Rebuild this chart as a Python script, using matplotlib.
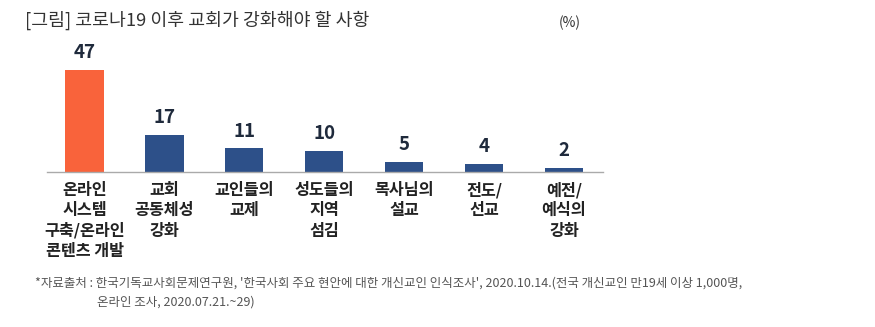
import matplotlib
matplotlib.use('Agg')
import matplotlib.pyplot as plt
import matplotlib.transforms as mtransforms

plt.rcParams['font.family'] = ['Noto Sans CJK KR', 'DejaVu Sans']

# data
categories = ['온라인\n시스템\n구축/온라인\n콘텐츠 개발',
              '교회\n공동체성\n강화',
              '교인들의\n교제',
              '성도들의\n지역\n섬김',
              '목사님의\n설교',
              '전도/\n선교',
              '예전/\n예식의\n강화']
values = [47, 17, 11, 10, 5, 4, 2]
title = '[그림] 코로나19 이후 교회가 강화해야 할 사항'
unit = '(%)'
source_1 = "*자료출처 : 한국기독교사회문제연구원, '한국사회 주요 현안에 대한 개신교인 인식조사', 2020.10.14.(전국 개신교인 만19세 이상 1,000명,"
source_2 = '온라인 조사, 2020.07.21.~29)'

ORANGE = '#F9633B'
NAVY = '#2D5089'

W, H = 875, 327
fig = plt.figure(figsize=(W / 100, H / 100), dpi=100)
ax = fig.add_axes([47 / W, 1 - 172.5 / H, 556 / W, 109.5 / H])

x = list(range(len(values)))
colors = [ORANGE] + [NAVY] * (len(values) - 1)
ax.bar(x, values, width=0.48, color=colors, zorder=2)
ax.set_xlim(-0.47, 6.49)
ax.set_ylim(0, 50)

for xi, v in zip(x, values):
    ax.annotate(str(v), (xi, v), xytext=(0, 12.5), textcoords='offset points',
                ha='center', va='center', fontsize=13.5, fontweight='bold',
                color='#1F2A3C')

# category labels under the axis line, one text per line for even spacing
trans = mtransforms.blended_transform_factory(ax.transData, fig.transFigure)
for xi, lab in zip(x, categories):
    for k, line in enumerate(lab.split('\n')):
        ax.text(xi, 1 - (190 + 20.3 * k) / H, line, transform=trans,
                ha='center', va='center', fontsize=11.7, fontweight='bold',
                color='#222222')

for s in ['top', 'right', 'left']:
    ax.spines[s].set_visible(False)
ax.spines['bottom'].set_color('#AAAAAA')
ax.spines['bottom'].set_linewidth(1.0)
ax.set_xticks([])
ax.set_yticks([])

fig.text(25 / W, 1 - 20 / H, title, ha='left', va='center', fontsize=13.2,
         color='#333333')
fig.text(570 / W, 1 - 23 / H, unit, ha='center', va='center', fontsize=10,
         color='#333333')
fig.text(35 / W, 1 - 283 / H, source_1, ha='left', va='center', fontsize=9,
         color='#555555')
fig.text(97 / W, 1 - 302 / H, source_2, ha='left', va='center', fontsize=9,
         color='#555555')

fig.savefig('out.png', dpi=100)
